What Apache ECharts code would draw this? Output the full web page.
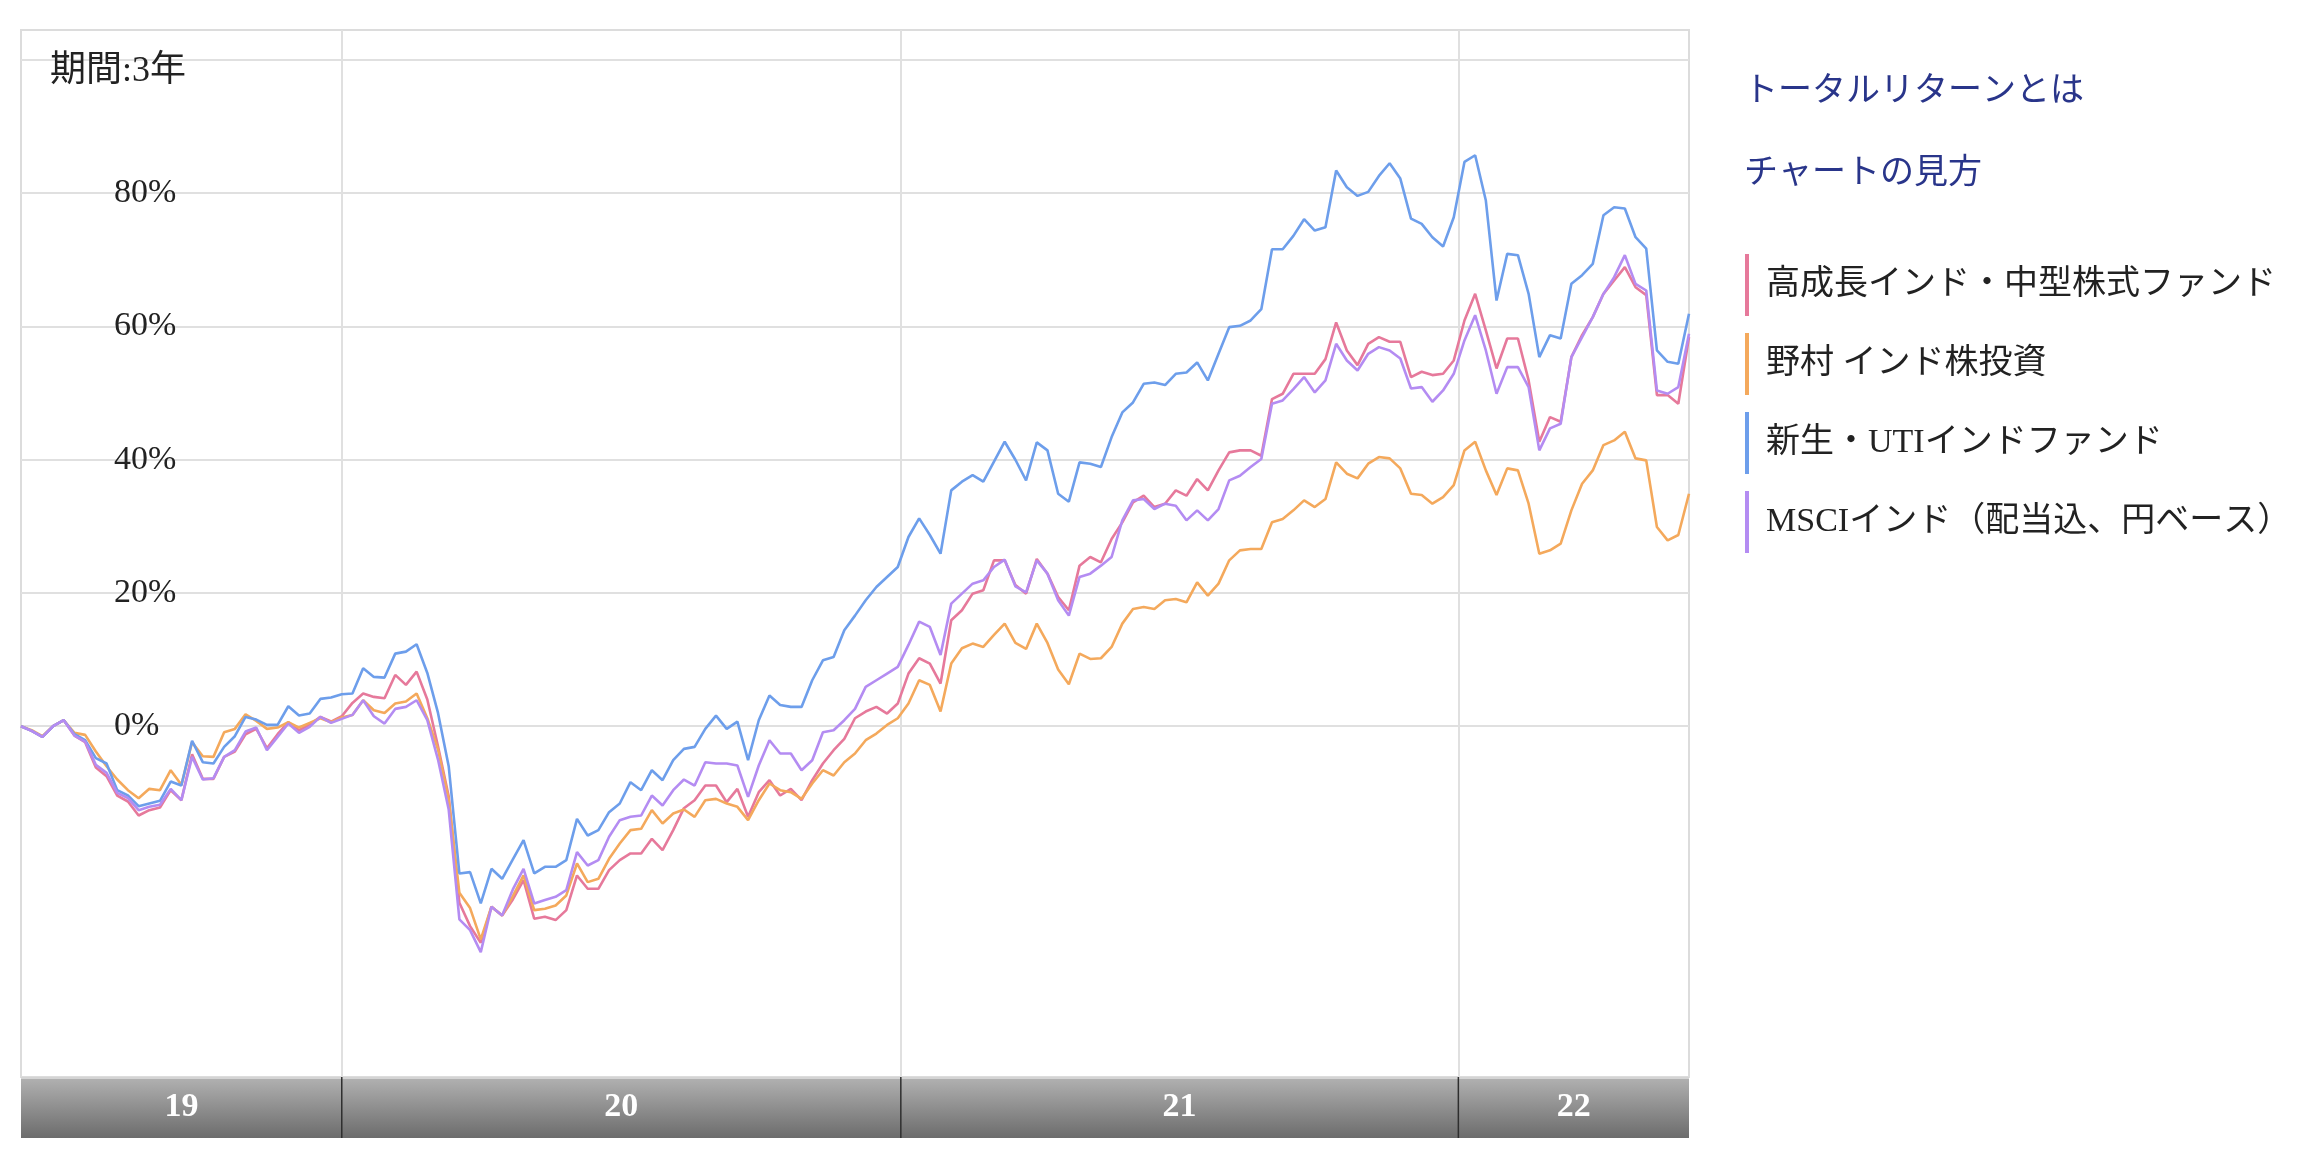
<!DOCTYPE html>
<html>
<head>
<meta charset="utf-8">
<script src="https://cdn.jsdelivr.net/npm/echarts@6/dist/echarts.min.js"></script>
<style>
html,body{margin:0;padding:0;background:#fff;}
#chart{width:2304px;height:1170px;}
</style>
</head>
<body>
<div id="chart"></div>
<script>
// ---------- data ----------
const startDate = '2019-06-05';           // first weekly observation
const yearStarts = ['2020-01-01', '2021-01-01', '2022-01-01'];
const yearLabels = ['19', '20', '21', '22'];
const yTickValues = [0, 20, 40, 60, 80, 100];
const yLabelValues = [0, 20, 40, 60, 80];
const periodLabel = '期間:3年';
const linkLabels = ['トータルリターンとは', 'チャートの見方'];

const seriesNames = ['高成長インド・中型株式ファンド', '野村 インド株投資', '新生・UTIインドファンド', 'MSCIインド（配当込、円ベース）'];

const fundHighGrowth = [
  0, -0.7, -1.6, 0, 0.9, -1.4, -2.4, -6.2, -7.5, -10.4, -11.3, -13.4, -12.6, -12.2, -9.6, -11.1, -4.2, -7.9, -7.9, -4.6, -3.8, -1.2, -0.4, -3.3, -1.2, 0.6, -0.6, 0.2, 1.4, 0.7, 1.5,
  3.5, 4.9, 4.4, 4.2, 7.7, 6.2, 8.2, 4.0, -3.0, -10.5, -26.5, -30.0, -32.5, -27.1, -28.4, -26.0, -23.1, -28.9, -28.6, -29.1, -27.6, -22.4, -24.4, -24.4, -21.6, -20.1, -19.1, -19.1, -16.9, -18.6, -15.6, -12.3,
  -11.1, -8.9, -8.9, -11.4, -9.4, -13.6, -9.9, -8.1, -10.4, -9.4, -11.1, -8.1, -5.6, -3.6, -1.9, 1.2, 2.2, 2.9, 1.9, 3.4, 7.9, 10.2, 9.4, 6.4, 15.9, 17.4, 19.9, 20.4, 24.9, 24.9, 21.2,
  19.9, 25.1, 22.9, 19.4, 17.4, 24.1, 25.4, 24.6, 28.1, 30.6, 33.6, 34.6, 32.9, 33.4, 35.4, 34.6, 37.1, 35.4, 38.4, 41.1, 41.4, 41.4, 40.6, 49.1, 49.9, 52.9, 52.9, 52.9, 55.1, 60.6, 56.4,
  54.2, 57.4, 58.4, 57.7, 57.7, 52.4, 53.2, 52.7, 52.9, 54.9, 60.9, 64.9, 59.4, 53.7, 58.2, 58.2, 51.9, 42.7, 46.4, 45.7, 55.4, 58.7, 61.4, 64.9, 66.9, 68.9, 65.9, 64.7, 49.7, 49.7, 48.4, 58.4
];
const fundNomura = [
  0, -0.6, -1.5, 0, 0.9, -1.0, -1.3, -3.8, -6.0, -8.0, -9.6, -10.8, -9.4, -9.6, -6.6, -8.8, -2.4, -4.5, -4.6, -0.9, -0.4, 1.8, 0.8, -0.4, -0.2, 0.6, -0.2, 0.5, 1.2, 0.6, 1.3,
  1.7, 3.9, 2.4, 2.0, 3.4, 3.7, 4.9, 1.2, -3.5, -11.0, -25.0, -27.3, -32.0, -27.1, -28.4, -25.5, -22.4, -27.6, -27.4, -26.9, -25.4, -20.6, -23.4, -22.9, -19.9, -17.6, -15.6, -15.4, -12.6, -14.6, -13.1, -12.5,
  -13.6, -11.1, -10.9, -11.6, -12.1, -14.1, -11.1, -8.6, -9.6, -9.9, -10.9, -8.6, -6.6, -7.4, -5.4, -4.1, -2.1, -1.1, 0.2, 1.2, 3.4, 6.9, 6.2, 2.2, 9.4, 11.7, 12.4, 11.9, 13.7, 15.4, 12.5,
  11.6, 15.4, 12.5, 8.5, 6.3, 10.9, 10.1, 10.2, 11.9, 15.4, 17.6, 17.9, 17.6, 18.9, 19.1, 18.6, 21.6, 19.6, 21.4, 24.9, 26.4, 26.6, 26.6, 30.6, 31.1, 32.4, 33.9, 32.9, 34.1, 39.6, 37.9,
  37.2, 39.4, 40.4, 40.2, 38.7, 34.9, 34.7, 33.4, 34.4, 36.2, 41.4, 42.7, 38.4, 34.7, 38.7, 38.4, 33.4, 25.9, 26.4, 27.4, 32.4, 36.4, 38.4, 42.2, 42.9, 44.2, 40.2, 39.9, 29.9, 27.9, 28.7, 34.9
];
const fundUTI = [
  0, -0.7, -1.6, 0, 0.9, -1.2, -2.1, -4.8, -5.6, -9.6, -10.4, -12.0, -11.6, -11.2, -8.3, -8.9, -2.2, -5.4, -5.6, -3.1, -1.5, 1.4, 1.0, 0.2, 0.2, 3.0, 1.6, 1.9, 4.1, 4.3, 4.8,
  4.9, 8.7, 7.4, 7.3, 10.9, 11.2, 12.3, 8.0, 2.0, -6.0, -22.1, -21.9, -26.6, -21.4, -22.9, -20.0, -17.1, -22.1, -21.1, -21.1, -20.1, -13.9, -16.4, -15.6, -12.9, -11.6, -8.4, -9.6, -6.6, -8.1, -5.1, -3.4,
  -3.1, -0.4, 1.6, -0.4, 0.7, -5.1, 0.9, 4.6, 3.2, 2.9, 2.9, 6.9, 9.9, 10.4, 14.4, 16.6, 18.9, 20.9, 22.4, 23.9, 28.4, 31.2, 28.7, 25.9, 35.4, 36.7, 37.7, 36.7, 39.7, 42.7, 40.0,
  36.9, 42.6, 41.4, 34.9, 33.7, 39.6, 39.4, 38.9, 43.4, 47.1, 48.6, 51.4, 51.6, 51.2, 52.9, 53.1, 54.6, 51.9, 55.9, 59.9, 60.1, 60.9, 62.6, 71.6, 71.6, 73.6, 76.1, 74.4, 74.9, 83.4, 80.9,
  79.6, 80.2, 82.6, 84.5, 82.2, 76.2, 75.4, 73.4, 72.0, 76.4, 84.7, 85.7, 78.9, 63.9, 70.9, 70.7, 64.9, 55.4, 58.7, 58.2, 66.4, 67.7, 69.4, 76.7, 77.9, 77.7, 73.4, 71.7, 56.4, 54.7, 54.4, 61.9
];
const indexMSCI = [
  0, -0.7, -1.6, 0, 0.9, -1.4, -2.3, -5.8, -7.0, -10.0, -10.8, -12.6, -12.1, -11.8, -9.4, -11.1, -4.6, -8.0, -7.8, -4.6, -3.6, -0.8, -0.2, -3.6, -1.6, 0.4, -1.0, -0.1, 1.4, 0.5, 1.1,
  1.7, 3.9, 1.5, 0.4, 2.6, 2.9, 3.9, 0.9, -5.0, -12.5, -29.0, -30.6, -33.9, -27.1, -28.4, -24.5, -21.4, -26.6, -26.1, -25.6, -24.6, -18.9, -20.9, -20.1, -16.6, -14.1, -13.6, -13.4, -10.4, -11.9, -9.6, -8.0,
  -8.9, -5.4, -5.6, -5.6, -5.9, -10.6, -5.9, -2.1, -4.1, -4.1, -6.6, -5.1, -0.9, -0.6, 0.9, 2.6, 5.9, 6.9, 7.9, 8.9, 12.2, 15.7, 14.9, 10.7, 18.4, 19.9, 21.4, 21.9, 23.9, 25.0, 21.0,
  20.1, 24.9, 22.9, 18.9, 16.6, 22.4, 22.9, 24.1, 25.4, 30.9, 33.9, 34.1, 32.6, 33.4, 33.1, 30.9, 32.4, 30.9, 32.6, 36.9, 37.6, 38.9, 40.1, 48.4, 48.9, 50.6, 52.4, 50.1, 51.9, 57.4, 54.9,
  53.4, 55.9, 56.9, 56.4, 55.2, 50.7, 50.9, 48.7, 50.4, 52.9, 57.9, 61.7, 56.4, 49.9, 53.9, 53.9, 50.9, 41.4, 44.7, 45.4, 55.4, 58.4, 61.4, 64.9, 67.4, 70.7, 66.4, 65.4, 50.4, 49.9, 50.9, 58.9
];

// ---------- build ----------
const FONT = "'Liberation Serif', 'Noto Sans CJK JP', serif";
const colors = ['#e6799b', '#f4a95c', '#6d9eeb', '#b48cf2'];
const seriesValues = [fundHighGrowth, fundNomura, fundUTI, indexMSCI];

function toTs(s) { const p = s.split('-').map(Number); return new Date(p[0], p[1] - 1, p[2]).getTime(); }
const sd = startDate.split('-').map(Number);
const dates = fundUTI.map((_, i) => new Date(sd[0], sd[1] - 1, sd[2] + 7 * i).getTime());
const xMin = dates[0], xMax = dates[dates.length - 1];
const yearLineTs = yearStarts.map(toTs);
const bandEdges = [xMin].concat(yearLineTs, [xMax]);
const bands = yearLabels.map((lab, i) => [bandEdges[i], bandEdges[i + 1]]);

const chart = echarts.init(document.getElementById('chart'), null, { renderer: 'canvas' });

const lineSeries = seriesValues.map((arr, k) => ({
  name: seriesNames[k],
  type: 'line',
  xAxisIndex: 0,
  yAxisIndex: 0,
  data: arr.map((v, i) => [dates[i], v]),
  symbol: 'none',
  showSymbol: false,
  lineStyle: { width: 2.6, color: colors[k] },
  itemStyle: { color: colors[k] },
  z: 3 + k,
  silent: true
}));

const bandSeries = {
  type: 'custom',
  xAxisIndex: 1,
  yAxisIndex: 1,
  silent: true,
  data: bands,
  encode: { x: [0, 1] },
  renderItem: function (params, api) {
    const a = api.coord([api.value(0), 1]);
    const b = api.coord([api.value(1), 0]);
    const children = [
      {
        type: 'rect',
        shape: { x: a[0], y: a[1], width: b[0] - a[0], height: b[1] - a[1] },
        style: {
          fill: new echarts.graphic.LinearGradient(0, 0, 0, 1, [
            { offset: 0, color: '#b2b2b2' },
            { offset: 1, color: '#6c6c6c' }
          ])
        }
      },
      {
        type: 'line',
        shape: { x1: a[0], y1: a[1] + 1, x2: b[0], y2: a[1] + 1 },
        style: { stroke: '#d4d4d4', lineWidth: 2 }
      },
      {
        type: 'text',
        x: (a[0] + b[0]) / 2,
        y: (a[1] + b[1]) / 2,
        style: {
          text: yearLabels[params.dataIndex],
          fill: '#ffffff',
          font: 'bold 34px ' + FONT,
          align: 'center',
          verticalAlign: 'middle'
        }
      }
    ];
    if (params.dataIndex > 0) {
      children.push({
        type: 'line',
        shape: { x1: a[0], y1: a[1], x2: a[0], y2: b[1] },
        style: { stroke: '#2e2e2e', lineWidth: 1.5 }
      });
    }
    return { type: 'group', children: children };
  }
};

const option = {
  animation: false,
  backgroundColor: '#ffffff',
  title: [
    { text: periodLabel, left: 50, top: 54, padding: 0, textStyle: { fontSize: 36, fontWeight: 'normal', color: '#222', fontFamily: FONT } },
    { text: linkLabels[0], left: 1744, top: 75, padding: 0, textStyle: { fontSize: 34, fontWeight: 'normal', color: '#29358a', fontFamily: FONT } },
    { text: linkLabels[1], left: 1744, top: 157, padding: 0, textStyle: { fontSize: 34, fontWeight: 'normal', color: '#29358a', fontFamily: FONT } }
  ],
  legend: {
    orient: 'vertical',
    left: 1745,
    top: 254,
    padding: 0,
    icon: 'rect',
    itemWidth: 4,
    itemHeight: 62,
    itemGap: 17,
    selectedMode: false,
    data: seriesNames,
    textStyle: { fontSize: 34, color: '#222', fontFamily: FONT, padding: [0, 0, 0, 12] }
  },
  grid: [
    { left: 21, top: 30, width: 1668, height: 1047, show: true, borderColor: '#dcdcdc', borderWidth: 2 },
    { left: 21, top: 1077, width: 1668, height: 61 }
  ],
  xAxis: [
    {
      type: 'time', gridIndex: 0, min: xMin, max: xMax,
      axisLine: { show: false }, axisLabel: { show: false },
      axisTick: { show: false, customValues: yearLineTs },
      splitLine: { show: true, lineStyle: { color: '#e0e0e0', width: 2 } }
    },
    {
      type: 'time', gridIndex: 1, min: xMin, max: xMax,
      axisLine: { show: false }, axisLabel: { show: false }, axisTick: { show: false }, splitLine: { show: false }
    }
  ],
  yAxis: [
    {
      type: 'value', gridIndex: 0, min: -52.65, max: 104.5,
      axisLine: { show: false },
      axisTick: { show: false, customValues: yTickValues },
      axisLabel: {
        inside: true, margin: 93, customValues: yLabelValues,
        formatter: '{value}%', fontSize: 34, color: '#222', fontFamily: FONT, align: 'left',
        padding: [6, 0, 0, 0]
      },
      splitLine: { show: true, lineStyle: { color: '#e0e0e0', width: 2 } }
    },
    {
      type: 'value', gridIndex: 1, min: 0, max: 1, show: false
    }
  ],
  series: lineSeries.concat([bandSeries])
};

chart.setOption(option);
</script>
</body>
</html>
